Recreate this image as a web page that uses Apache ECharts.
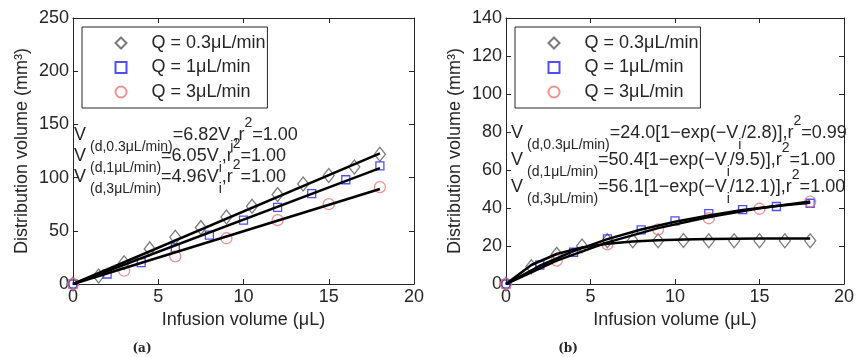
<!DOCTYPE html>
<html>
<head>
<meta charset="utf-8">
<script src="https://cdn.jsdelivr.net/npm/echarts@6/dist/echarts.min.js"></script>
<style>html,body{margin:0;padding:0;background:#fff}#c{width:857px;height:357px}</style>
</head>
<body>
<div id="c"></div>
<script>
// ---------- data ----------
const seriesNames = ['Q = 0.3μL/min', 'Q = 1μL/min', 'Q = 3μL/min'];
const xTicks = [0, 5, 10, 15, 20];
const yTicksA = [0, 50, 100, 150, 200, 250];
const yTicksB = [0, 20, 40, 60, 80, 100, 120, 140];

// (a) measured points
const xA03 = [0, 1.5, 3, 4.5, 6, 7.5, 9, 10.5, 12, 13.5, 15, 16.5, 18];
const yA03 = [0, 7.5, 20, 33, 44, 53, 63, 73, 84, 94, 102, 110, 122];
const xA1 = [0, 2, 4, 6, 8, 10, 12, 14, 16, 18];
const yA1 = [0, 9.4, 20, 34, 46, 60, 72, 85, 98, 111];
const xA3 = [0, 3, 6, 9, 12, 15, 18];
const yA3 = [0, 12.5, 26, 43, 60, 75, 91];
// (a) fitted lines
const fitXA = [0, 18];
const fitA03 = [0, 122.8];
const fitA1 = [0, 108.9];
const fitA3 = [0, 89.3];

// (b) measured points
const xB03 = [0, 1.5, 3, 4.5, 6, 7.5, 9, 10.5, 12, 13.5, 15, 16.5, 18];
const yB03 = [0, 9.1, 15.6, 20, 22.8, 22.8, 22.8, 22.9, 22.8, 22.8, 22.8, 22.8, 22.8];
const xB1 = [0, 2, 4, 6, 8, 10, 12, 14, 16, 18];
const yB1 = [0, 10, 16.7, 23.7, 28.5, 33.2, 37, 39.1, 40.8, 42.5];
const xB3 = [0, 3, 6, 9, 12, 15, 18];
const yB3 = [0, 12.3, 20.9, 28.8, 34.6, 39.6, 43.4];
// (b) fitted curves
const fitXB03 = [0, 1.5, 3, 4.5, 6, 7.5, 9, 10.5, 12, 13.5, 15, 16.5, 18];
const fitB03 = [0, 10.0, 15.8, 19.2, 21.2, 22.4, 23.0, 23.4, 23.7, 23.8, 23.9, 23.9, 24.0];
const fitXB1 = [0, 2, 4, 6, 8, 10, 12, 14, 16, 18];
const fitB1 = [0, 9.6, 17.3, 23.6, 28.7, 32.8, 36.1, 38.9, 41.0, 42.8];
const fitXB3 = [0, 3, 6, 9, 12, 15, 18];
const fitB3 = [0, 12.3, 21.9, 29.4, 35.3, 39.9, 43.4];

// annotation texts
const eqA = [
  ['V', '(d,0.3μL/min)', '=6.82V', 'i', ',r', '2', '=1.00'],
  ['V', '(d,1μL/min)', '=6.05V', 'i', ',r', '2', '=1.00'],
  ['V', '(d,3μL/min)', '=4.96V', 'i', ',r', '2', '=1.00']
];
const eqB = [
  ['V', '(d,0.3μL/min)', '=24.0[1−exp(−V', 'i', '/2.8)],r', '2', '=0.99'],
  ['V', '(d,1μL/min)', '=50.4[1−exp(−V', 'i', '/9.5)],r', '2', '=1.00'],
  ['V', '(d,3μL/min)', '=56.1[1−exp(−V', 'i', '/12.1)],r', '2', '=1.00']
];

// ---------- styles ----------
const FONT = 'Liberation Sans, Arial, Helvetica, sans-serif';
const INK = '#262626';
const markerStyles = [
  { symbol: 'diamond', size: [11, 14], color: '#5a5a5a' },
  { symbol: 'rect', size: 8, color: '#2323f0' },
  { symbol: 'circle', size: 11, color: '#f07575' }
];

function zip(xs, ys) { return xs.map((x, i) => [x, ys[i]]); }

function scatter(idx, xs, ys, gi) {
  const m = markerStyles[idx];
  return {
    type: 'scatter', name: seriesNames[idx], xAxisIndex: gi * 2, yAxisIndex: gi * 2,
    data: zip(xs, ys), symbol: m.symbol, symbolSize: m.size,
    itemStyle: { color: 'rgba(0,0,0,0)', borderColor: m.color, borderWidth: 1.3 },
    emphasis: { disabled: true }, z: 2
  };
}
function fit(xs, ys, gi) {
  return {
    type: 'line', xAxisIndex: gi * 2, yAxisIndex: gi * 2, data: zip(xs, ys),
    showSymbol: false, symbol: 'none', lineStyle: { color: '#000', width: 2.5 },
    emphasis: { disabled: true }, z: 3
  };
}

function xAxes(gi) {
  const base = {
    gridIndex: gi, type: 'value', min: xTicks[0], max: xTicks[xTicks.length - 1],
    interval: xTicks[1] - xTicks[0], splitLine: { show: false },
    axisLine: { show: true, onZero: false, lineStyle: { color: INK, width: 1 } },
    axisTick: { show: true, inside: true, length: 5, lineStyle: { color: INK } }
  };
  return [
    Object.assign({}, base, {
      position: 'bottom', name: 'Infusion volume (μL)', nameLocation: 'middle', nameGap: 27,
      nameTextStyle: { fontSize: 18, color: INK, fontFamily: FONT },
      axisLabel: { fontSize: 18, color: INK, fontFamily: FONT, margin: 4 }
    }),
    Object.assign({}, base, { position: 'top', axisLabel: { show: false } })
  ];
}
function yAxes(gi, ticks) {
  const base = {
    gridIndex: gi, type: 'value', min: ticks[0], max: ticks[ticks.length - 1],
    interval: ticks[1] - ticks[0], splitLine: { show: false },
    axisLine: { show: true, onZero: false, lineStyle: { color: INK, width: 1 } },
    axisTick: { show: true, inside: true, length: 5, lineStyle: { color: INK } }
  };
  return [
    Object.assign({}, base, {
      position: 'left', name: 'Distribution volume (mm³)', nameLocation: 'middle', nameGap: 42,
      nameTextStyle: { fontSize: 18, color: INK, fontFamily: FONT },
      axisLabel: { fontSize: 18, color: INK, fontFamily: FONT, margin: 4 }
    }),
    Object.assign({}, base, { position: 'right', axisLabel: { show: false } })
  ];
}

function legend(left) {
  return {
    left: left, top: 27, orient: 'vertical', data: seriesNames, selectedMode: false,
    itemWidth: 11, itemHeight: 11, itemGap: 6.5,
    padding: [7, 2, 7, 32.5], borderColor: INK, borderWidth: 1, backgroundColor: '#fff',
    textStyle: { fontSize: 18, lineHeight: 18, color: INK, fontFamily: FONT, padding: [0, 0, 0, 20] }
  };
}

const rich = {
  m: { fontSize: 18, lineHeight: 38, fontFamily: FONT, fill: INK, verticalAlign: 'middle' },
  b: { fontSize: 14, lineHeight: 19, fontFamily: FONT, fill: INK, verticalAlign: 'bottom', padding: [0, 0, 0, 4] },
  c: { fontSize: 14, lineHeight: 19, fontFamily: FONT, fill: INK, verticalAlign: 'bottom' },
  p: { fontSize: 14, lineHeight: 19, fontFamily: FONT, fill: INK, verticalAlign: 'top' }
};
function eqText(parts) {
  return '{m|' + parts[0] + '}{b|' + parts[1] + '}{m|' + parts[2] + '}{c|' + parts[3] +
    '}{m|' + parts[4] + '}{p|' + parts[5] + '}{m|' + parts[6] + '}';
}
function eqGraphics(eqs, left, tops) {
  return eqs.map((e, i) => ({
    type: 'text', left: left, top: tops[i], z: 10,
    style: { text: eqText(e), rich: rich, fontFamily: FONT, fontSize: 18, fill: INK }
  }));
}

const chart = echarts.init(document.getElementById('c'), null, { renderer: 'canvas' });
chart.setOption({
  animation: false,
  backgroundColor: '#fff',
  grid: [
    { left: 73, top: 18, width: 341, height: 266 },
    { left: 506, top: 18, width: 341, height: 266 }
  ],
  xAxis: xAxes(0).concat(xAxes(1)),
  yAxis: yAxes(0, yTicksA).concat(yAxes(1, yTicksB)),
  legend: [legend(82), legend(515)],
  series: [
    scatter(0, xA03, yA03, 0), scatter(1, xA1, yA1, 0), scatter(2, xA3, yA3, 0),
    fit(fitXA, fitA03, 0), fit(fitXA, fitA1, 0), fit(fitXA, fitA3, 0),
    scatter(0, xB03, yB03, 1), scatter(1, xB1, yB1, 1), scatter(2, xB3, yB3, 1),
    fit(fitXB03, fitB03, 1), fit(fitXB1, fitB1, 1), fit(fitXB3, fitB3, 1)
  ],
  graphic: eqGraphics(eqA, 74, [116, 137, 158])
    .concat(eqGraphics(eqB, 511, [114.5, 141.5, 168]))
    .concat([
      { type: 'text', x: 142, y: 349, style: { text: '(a)', textAlign: 'center', textVerticalAlign: 'middle', font: 'bold 12px "DejaVu Serif", serif', fill: INK } },
      { type: 'text', x: 568, y: 349, style: { text: '(b)', textAlign: 'center', textVerticalAlign: 'middle', font: 'bold 12px "DejaVu Serif", serif', fill: INK } }
    ])
});
</script>
</body>
</html>
